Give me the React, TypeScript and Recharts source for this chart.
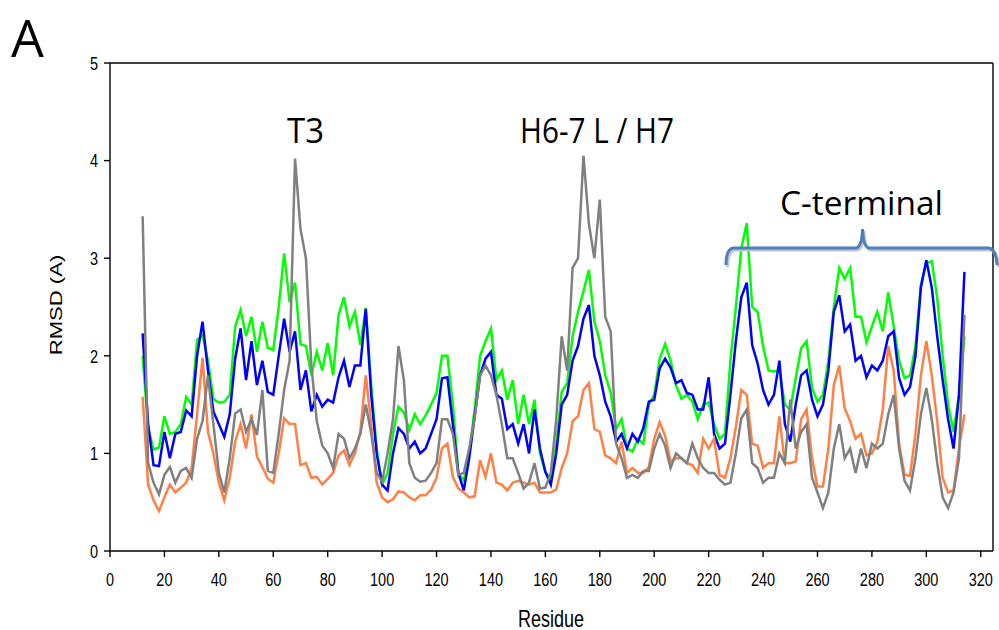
import { LineChart, Line, XAxis, YAxis, ReferenceLine } from "recharts";

// residue numbers sampled every 2 residues
const residues = Array.from({ length: 152 }, (_, i) => 12 + i * 2);

const green = [
  2.0, 1.26, 1.04, 1.06, 1.38, 1.2, 1.22, 1.3, 1.58, 1.5,
  2.16, 2.21, 1.95, 1.56, 1.52, 1.53, 1.6, 2.3, 2.47, 2.2,
  2.4, 2.04, 2.35, 2.08, 2.06, 2.5, 3.05, 2.55, 2.75, 2.12,
  2.1, 1.8, 2.04, 1.85, 2.13, 1.8, 2.42, 2.6, 2.3, 2.45,
  2.11, 2.49, 1.7, 1.05, 0.68, 0.8, 1.2, 1.48, 1.42, 1.24,
  1.4, 1.3, 1.39, 1.5, 1.62, 2.0, 2.0, 1.5, 0.8, 0.72,
  1.0, 1.45, 2.0, 2.15, 2.28, 1.75, 1.85, 1.55, 1.75, 1.3,
  1.6, 1.3, 1.55, 1.0, 0.81, 0.74, 1.1, 1.63, 1.72, 2.2,
  2.45, 2.66, 2.88, 2.35, 2.15, 1.8, 1.62, 1.25, 1.35, 1.05,
  1.02, 1.15, 1.1, 1.5, 1.6, 1.97, 2.12, 1.95, 1.7, 1.56,
  1.6, 1.53, 1.35, 1.5, 1.52, 1.3, 1.15, 1.2, 1.95, 2.5,
  3.1, 3.36, 2.5, 2.45, 2.1, 1.85, 1.84, 1.85, 1.5, 1.45,
  1.77, 2.08, 2.15, 1.67, 1.53, 1.6, 1.95, 2.5, 2.9, 2.79,
  2.9, 2.4, 2.4, 2.14, 2.3, 2.45, 2.25, 2.65, 2.3, 1.95,
  1.77, 1.8, 2.1, 2.73, 2.95, 2.97, 2.59, 2.0, 1.5, 1.22,
  1.6, 2.2,
];

const blue = [
  2.23, 1.3, 0.88, 0.87, 1.22, 0.95, 1.2, 1.22, 1.44, 1.38,
  2.0, 2.35, 1.85, 1.43, 1.3, 1.17, 1.4, 1.97, 2.28, 1.75,
  2.15, 1.7, 1.95, 1.63, 1.6, 2.0, 2.38, 2.04, 2.25, 1.65,
  1.85, 1.43, 1.6, 1.48, 1.55, 1.52, 1.78, 1.95, 1.68, 1.9,
  1.9, 2.48, 1.6, 1.0, 0.68, 0.62, 1.0, 1.26, 1.2, 1.05,
  1.12, 1.0, 1.05, 1.2, 1.35, 1.77, 1.78, 1.3, 0.8, 0.62,
  0.95, 1.38, 1.8, 1.97, 2.04, 1.6, 1.56, 1.25, 1.3, 1.1,
  1.3, 1.0, 1.45, 1.05, 0.81, 0.68, 1.0, 1.5, 1.6, 1.95,
  2.1, 2.38, 2.52, 2.0, 1.8, 1.53, 1.38, 1.12, 1.2, 1.05,
  1.2, 1.12, 1.26, 1.53, 1.55, 1.87, 1.97, 1.88, 1.72, 1.75,
  1.62, 1.6, 1.45, 1.45, 1.78, 1.2, 1.05, 1.1, 1.6, 2.15,
  2.6, 2.75, 2.11, 1.92, 1.65, 1.5, 1.6, 1.95, 1.3, 1.12,
  1.5, 1.8, 1.85, 1.55, 1.38, 1.5, 1.85, 2.45, 2.62, 2.25,
  2.32, 1.95, 2.0, 1.78, 1.9, 1.85, 1.95, 2.2, 2.25, 1.77,
  1.6, 1.68, 2.0, 2.7, 2.98, 2.7, 2.2, 1.75, 1.35, 1.05,
  1.6, 2.86,
];

const orange = [
  1.58, 0.68, 0.52, 0.41, 0.55, 0.68, 0.6, 0.65, 0.7, 0.85,
  1.4, 1.98, 1.22, 1.0, 0.7, 0.52, 0.75, 1.12, 1.3, 1.05,
  1.4, 0.97, 0.86, 0.74, 0.7, 1.0, 1.36, 1.3, 1.3, 0.88,
  0.9, 0.75, 0.76, 0.68, 0.74, 0.8, 0.98, 1.03, 0.88, 1.0,
  1.22, 1.8, 1.3, 0.7, 0.55, 0.5, 0.53, 0.61, 0.6, 0.55,
  0.52, 0.57, 0.57, 0.63, 0.75, 1.05, 1.1, 0.76, 0.64, 0.6,
  0.55, 0.56, 0.93, 0.76, 1.0, 0.7, 0.68, 0.62, 0.7, 0.72,
  0.7, 0.68, 0.7, 0.6, 0.6, 0.6, 0.63, 0.85, 1.0, 1.33,
  1.38, 1.65, 1.72, 1.25, 1.22, 0.98, 0.95, 0.9, 1.12, 0.8,
  0.85, 0.8, 0.8, 0.86, 1.15, 1.32, 1.18, 0.92, 0.95, 0.95,
  0.9, 0.88, 0.8, 1.15, 1.05, 1.15, 0.78, 0.75, 0.95, 1.27,
  1.65, 1.6, 1.1, 1.08, 0.85, 0.9, 0.9, 1.38, 0.9, 0.9,
  0.92, 1.35, 1.45, 0.95, 0.66, 0.66, 1.05, 1.7, 1.9, 1.46,
  1.33, 1.15, 1.2, 0.98, 1.0, 1.12, 1.45, 2.1, 1.85, 1.1,
  0.78, 0.77, 1.2, 1.8, 2.15, 1.8, 1.33, 0.75, 0.6, 0.62,
  1.05, 1.4,
];

const gray = [
  3.43, 0.9, 0.7, 0.58, 0.78, 0.86, 0.7, 0.82, 0.85, 0.75,
  1.15, 1.33, 1.8, 1.3, 0.8, 0.6, 0.95, 1.41, 1.45, 1.22,
  1.35, 1.19, 1.65, 0.82, 0.8, 1.2, 1.65, 1.95, 4.02, 3.3,
  3.0, 1.9, 1.33, 1.08, 1.0, 0.85, 1.2, 1.15, 0.95, 1.05,
  1.2, 1.5, 1.2, 0.8, 0.71, 1.0, 1.35, 2.1, 1.75, 0.9,
  0.75, 0.71, 0.72, 0.8, 0.9, 1.35, 1.35, 1.2, 0.78, 0.8,
  1.05, 1.36, 1.8, 1.9, 1.8, 1.6, 1.3, 0.95, 0.95, 0.8,
  0.64, 0.7, 0.9, 0.64, 0.65, 0.8, 1.35, 2.2, 1.85, 2.9,
  3.0, 4.05, 3.35, 3.0, 3.6, 2.4, 2.25, 1.1, 0.95, 0.75,
  0.78, 0.75, 0.82, 0.82, 1.05, 1.2, 1.08, 0.85, 1.0, 0.95,
  0.9, 1.1, 0.95, 0.85, 0.8, 0.8, 0.73, 0.68, 0.7, 1.0,
  1.36, 1.45, 0.9, 0.85, 0.7, 0.75, 0.75, 1.0, 0.9, 1.55,
  1.05, 1.22, 1.3, 0.75, 0.6, 0.44, 0.6, 1.05, 1.3, 0.95,
  1.05, 0.8, 1.05, 0.85, 1.1, 1.05, 1.1, 1.4, 1.6, 1.05,
  0.72, 0.62, 0.95, 1.4, 1.67, 1.35, 0.9, 0.55, 0.44, 0.6,
  0.95, 2.42,
];

const xTicks = [0, 20, 40, 60, 80, 100, 120, 140, 160, 180, 200, 220, 240, 260, 280, 300, 320];
const yTicks = [0, 1, 2, 3, 4, 5];
const X_MAX = 324.5;

const data = residues.map((r, i) => ({
  residue: r,
  green: green[i],
  blue: blue[i],
  orange: orange[i],
  gray: gray[i],
}));

const AXIS_FONT = "'Liberation Sans', Arial, sans-serif";
const NOTE_FONT = "'Open Sans', 'Noto Sans', sans-serif";

function XTick({ x, y, payload }: any) {
  return (
    <text
      transform={`translate(${x},${y}) scale(1,1.3)`}
      textAnchor="middle"
      dy="0.71em"
      fontSize={14.5}
      fontFamily={AXIS_FONT}
      fill="#000"
    >
      {payload.value}
    </text>
  );
}

function YTick({ x, y, payload }: any) {
  return (
    <text
      transform={`translate(${x},${y}) scale(1,1.3)`}
      textAnchor="end"
      dy="0.355em"
      fontSize={14.5}
      fontFamily={AXIS_FONT}
      fill="#000"
    >
      {payload.value}
    </text>
  );
}

export default function App() {
  return (
    <div style={{ position: "absolute", left: 0, top: 0, width: 999, height: 630, background: "#fff" }}>
      <LineChart
        width={999}
        height={630}
        data={data}
        margin={{ top: 63, right: 6, left: 70, bottom: 49 }}
      >
        <XAxis
          dataKey="residue"
          type="number"
          domain={[0, X_MAX]}
          ticks={xTicks}
          height={30}
          tickSize={6}
          tickMargin={16}
          tick={<XTick />}
          axisLine={{ stroke: "#000", strokeWidth: 1.4 }}
          tickLine={{ stroke: "#000", strokeWidth: 1.4 }}
          allowDataOverflow
        />
        <YAxis
          type="number"
          domain={[0, 5]}
          ticks={yTicks}
          width={40}
          tickSize={6}
          tickMargin={6}
          tick={<YTick />}
          axisLine={{ stroke: "#000", strokeWidth: 1.4 }}
          tickLine={{ stroke: "#000", strokeWidth: 1.4 }}
        />
        <ReferenceLine y={5} stroke="#000" strokeWidth={1.4} />
        <ReferenceLine x={X_MAX} stroke="#000" strokeWidth={1.4} />
        <Line type="linear" dataKey="green" stroke="#00ff00" strokeWidth={2.5} dot={false} isAnimationActive={false} />
        <Line type="linear" dataKey="blue" stroke="#0000ff" strokeWidth={2.5} dot={false} isAnimationActive={false} />
        <Line type="linear" dataKey="orange" stroke="#ff7f45" strokeWidth={2.5} dot={false} isAnimationActive={false} />
        <Line type="linear" dataKey="gray" stroke="#808080" strokeWidth={2.5} dot={false} isAnimationActive={false} />
      </LineChart>
      <svg
        width={999}
        height={630}
        style={{ position: "absolute", left: 0, top: 0, pointerEvents: "none" }}
      >
        <text x={11} y={57} fontSize={52} fontFamily={NOTE_FONT} fill="#000">A</text>
        <text x={287} y={143} fontSize={35} fontFamily={NOTE_FONT} fill="#000" textLength={37} lengthAdjust="spacingAndGlyphs">T3</text>
        <text x={520} y={143} fontSize={35} fontFamily={NOTE_FONT} fill="#000" textLength={154} lengthAdjust="spacingAndGlyphs">H6-7 L / H7</text>
        <text x={780} y={215} fontSize={32} fontFamily={NOTE_FONT} fill="#000" textLength={163} lengthAdjust="spacingAndGlyphs">C-terminal</text>
        <path
          d="M726,265 Q726,248 734,248 L855,248 Q862,248 862.5,229 Q863,248 870,248 L988,248 Q996,248 997,265"
          fill="none"
          stroke="#b8c4d4"
          strokeWidth={3}
          transform="translate(1.5,2)"
        />
        <path
          d="M726,265 Q726,248 734,248 L855,248 Q862,248 862.5,229 Q863,248 870,248 L988,248 Q996,248 997,265"
          fill="none"
          stroke="#4f7fba"
          strokeWidth={3}
        />
        <text
          transform="translate(62,305) rotate(-90) scale(1.3,1)"
          textAnchor="middle"
          fontSize={17}
          fontFamily={AXIS_FONT}
          fill="#000"
        >
          RMSD (A)
        </text>
        <text
          transform="translate(551,627) scale(1,1.3)"
          textAnchor="middle"
          fontSize={18}
          fontFamily={AXIS_FONT}
          fill="#000"
        >
          Residue
        </text>
      </svg>
    </div>
  );
}
